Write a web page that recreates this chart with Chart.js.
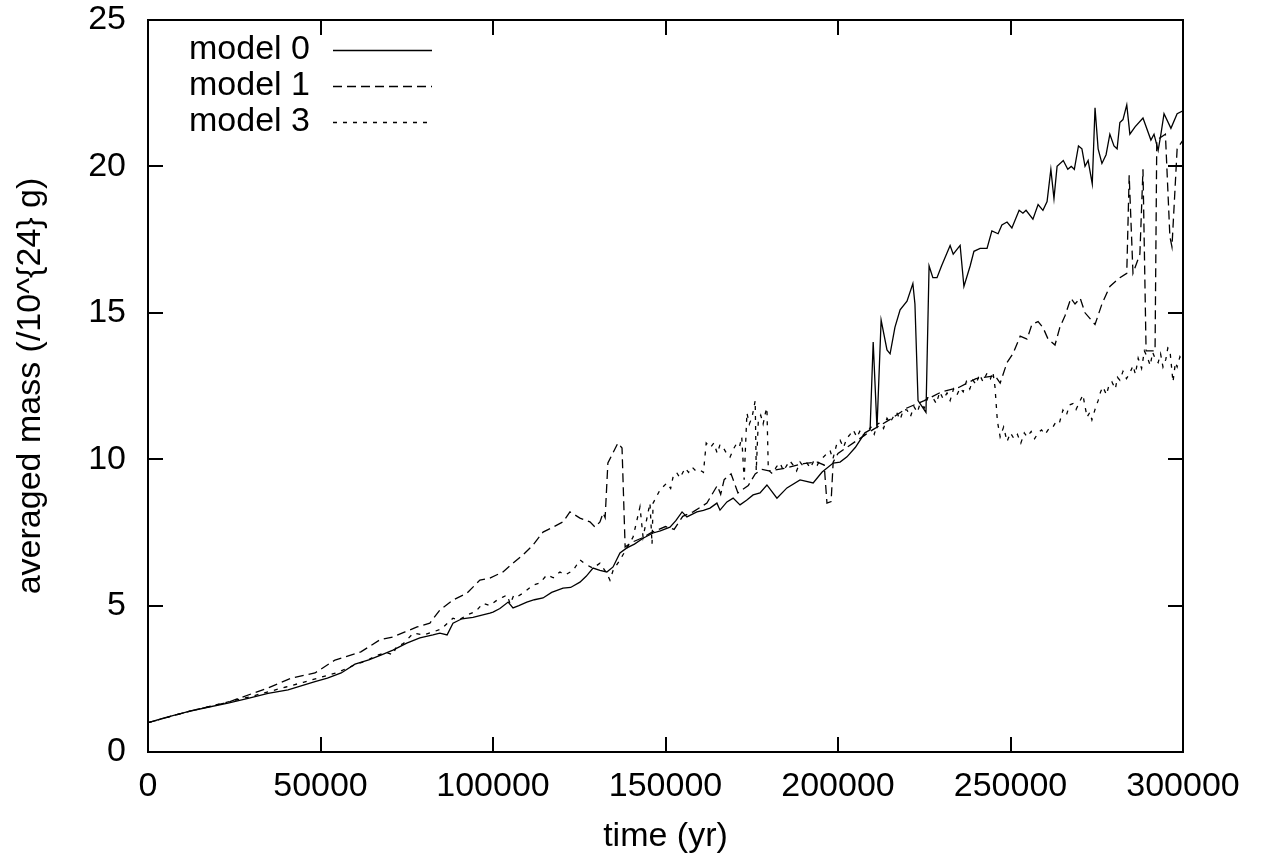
<!DOCTYPE html>
<html>
<head>
<meta charset="utf-8">
<script src="https://cdn.jsdelivr.net/npm/chart.js@4.4.1/dist/chart.umd.min.js"></script>
<style>
  html, body { margin: 0; padding: 0; background: #fff; }
  #wrap { width: 1262px; height: 865px; }
</style>
</head>
<body>
<div id="wrap"><canvas id="myChart" width="1262" height="865"></canvas></div>
<script>
// model 0 (solid)
const model0Time = [0, 5000, 11600, 17000, 23200, 29000, 34800, 40600, 48400, 52000, 56000, 60000, 64000, 67500, 71000, 73000, 75000, 78800, 82600, 84600, 86700, 88400, 91000, 94200, 96200, 99100, 100000, 102000, 104400, 105800, 107500, 109800, 112000, 114500, 117000, 120300, 122500, 125200, 127000, 129000, 131000, 133000, 134800, 136800, 138800, 141000, 143500, 146400, 148500, 151300, 153000, 154800, 156200, 159100, 161000, 162900, 164900, 165800, 167800, 169600, 171600, 173500, 175400, 177400, 179400, 182300, 185200, 189000, 192800, 195400, 198600, 200600, 202600, 205000, 207800, 209300, 210200, 211300, 212500, 214200, 215100, 216500, 218000, 220000, 221700, 222300, 223200, 225500, 226400, 227500, 228700, 230000, 232500, 233400, 235400, 236500, 238300, 239400, 241200, 243200, 244600, 246400, 247500, 249000, 250400, 252500, 253600, 254500, 256500, 258000, 259400, 260600, 261700, 262600, 263500, 265300, 266600, 267600, 268500, 269700, 270700, 271600, 272500, 273700, 274500, 275400, 276500, 277700, 278800, 280000, 280900, 281700, 282600, 283700, 284600, 286100, 288400, 290700, 291600, 292800, 293600, 294500, 296500, 298300, 300000];
const model0Mass = [1.0, 1.17, 1.38, 1.52, 1.67, 1.83, 2.0, 2.12, 2.4, 2.52, 2.7, 3.0, 3.15, 3.31, 3.48, 3.6, 3.72, 3.9, 4.0, 4.06, 4.0, 4.4, 4.55, 4.6, 4.66, 4.74, 4.78, 4.9, 5.12, 4.92, 5.0, 5.12, 5.2, 5.26, 5.45, 5.6, 5.62, 5.8, 6.0, 6.28, 6.2, 6.15, 6.32, 6.8, 6.97, 7.1, 7.3, 7.48, 7.55, 7.68, 7.9, 8.2, 8.03, 8.2, 8.25, 8.33, 8.5, 8.26, 8.54, 8.67, 8.44, 8.6, 8.78, 8.85, 9.12, 8.67, 9.02, 9.29, 9.19, 9.56, 9.87, 9.9, 10.08, 10.4, 10.9, 11.0, 14.0, 11.06, 14.75, 13.73, 13.6, 14.5, 15.1, 15.4, 16.0, 15.3, 12.0, 11.6, 16.6, 16.2, 16.2, 16.6, 17.3, 17.0, 17.3, 15.9, 16.6, 17.1, 17.2, 17.2, 17.8, 17.7, 18.0, 18.1, 17.9, 18.5, 18.4, 18.5, 18.2, 18.7, 18.5, 18.8, 19.9, 18.9, 20.0, 20.2, 19.9, 20.0, 19.9, 20.7, 20.6, 20.0, 20.2, 19.4, 22.0, 20.6, 20.1, 20.4, 21.1, 20.7, 20.6, 21.5, 21.6, 22.1, 21.1, 21.35, 21.65, 20.9, 21.1, 20.55, 21.1, 21.8, 21.3, 21.8, 21.9];

// model 1 (long dashes)
const model1Time = [0, 11600, 23200, 34800, 41500, 48400, 54200, 61700, 67200, 71000, 74500, 78000, 81700, 84600, 88400, 92500, 96200, 99100, 102900, 105800, 108700, 111600, 114500, 117400, 120300, 122300, 125200, 128100, 129600, 131000, 131900, 132500, 133300, 136200, 137400, 138300, 140000, 143000, 146000, 150000, 152500, 155000, 158000, 160000, 162000, 165000, 166000, 167000, 169000, 171000, 174000, 176000, 178000, 180000, 185000, 190000, 194000, 196000, 196800, 198000, 198600, 200000, 205000, 210000, 215000, 220000, 225000, 230000, 235000, 240000, 245500, 247000, 249000, 250700, 252800, 254800, 256200, 258000, 259400, 260900, 262900, 264300, 265800, 267500, 268700, 270200, 271600, 274500, 276500, 278800, 281700, 283700, 284400, 285500, 287500, 288400, 289300, 291900, 292400, 294900, 296200, 296800, 298300, 300000];
const model1Mass = [1.0, 1.38, 1.7, 2.19, 2.52, 2.7, 3.14, 3.42, 3.83, 3.93, 4.1, 4.27, 4.4, 4.85, 5.19, 5.43, 5.87, 5.94, 6.15, 6.45, 6.73, 7.07, 7.51, 7.68, 7.86, 8.2, 7.99, 7.86, 7.68, 7.86, 8.16, 8.0, 9.87, 10.55, 10.38, 7.0, 7.15, 7.3, 7.5, 7.7, 7.6, 8.05, 8.2, 8.35, 8.5, 9.1, 8.8, 9.3, 9.5, 8.85, 9.1, 9.5, 9.65, 9.6, 9.7, 9.85, 9.9, 9.8, 8.5, 8.55, 9.9, 10.2, 10.6, 11.0, 11.35, 11.75, 12.0, 12.3, 12.45, 12.75, 12.85, 12.6, 13.3, 13.6, 14.2, 14.1, 14.6, 14.7, 14.5, 14.1, 13.9, 14.5, 14.9, 15.5, 15.3, 15.5, 15.0, 14.6, 15.3, 15.9, 16.2, 16.35, 19.7, 16.35, 17.0, 19.9, 13.7, 13.7, 20.9, 21.1, 17.6, 17.25, 20.6, 20.9];

// model 3 (short dashes)
const model3Time = [0, 10000, 20000, 30000, 40000, 45000, 50000, 55000, 60000, 63000, 66000, 69000, 71000, 72000, 74000, 76900, 80000, 82600, 85000, 88400, 90000, 92500, 95000, 97100, 99000, 101200, 103000, 104100, 105000, 106000, 107000, 109000, 111600, 113600, 115600, 117500, 119400, 121000, 123200, 125200, 127000, 129000, 131000, 133000, 133900, 134800, 136800, 138500, 140600, 142600, 143500, 145500, 146100, 146400, 148400, 150400, 151500, 152200, 153200, 154200, 155700, 156700, 157700, 158800, 160000, 161000, 161800, 163000, 164000, 165000, 165800, 166700, 167700, 168700, 169700, 170700, 171500, 172100, 172800, 173600, 174300, 175100, 176000, 176300, 176900, 177600, 178300, 179000, 179400, 179800, 181000, 182200, 183200, 184200, 185200, 186000, 187000, 188000, 189000, 190000, 191000, 192000, 193000, 194000, 194800, 196000, 197700, 198500, 199700, 200600, 201600, 202500, 203500, 204400, 205500, 206500, 207500, 208400, 209500, 210500, 211400, 212200, 213200, 214200, 215100, 216000, 217000, 218000, 219000, 220000, 221000, 222000, 223000, 223800, 225000, 226000, 227500, 228500, 229500, 230500, 231600, 232500, 233500, 234500, 235400, 236300, 237200, 238200, 239100, 240000, 241000, 242000, 243200, 244200, 244900, 245500, 246200, 247000, 248000, 249000, 250000, 251000, 252000, 253000, 254000, 254800, 256000, 257000, 258000, 259000, 260000, 261500, 262300, 263300, 264200, 265200, 266200, 267100, 268100, 269000, 270200, 271000, 271600, 272200, 273000, 273600, 274500, 275400, 276100, 276800, 277800, 278600, 279400, 280400, 281000, 281700, 282600, 283600, 284600, 285500, 286200, 287000, 288000, 288800, 289600, 290500, 291200, 291900, 292800, 293500, 294200, 295000, 295600, 296200, 297100, 297800, 298300, 299100, 300000];
const model3Mass = [1.0, 1.33, 1.62, 1.9, 2.22, 2.38, 2.55, 2.72, 2.98, 3.1, 3.28, 3.4, 3.32, 3.6, 3.7, 4.06, 4.0, 4.1, 4.2, 4.57, 4.5, 4.68, 4.8, 5.08, 5.0, 5.19, 5.3, 5.36, 5.05, 5.35, 5.3, 5.45, 5.7, 5.77, 6.05, 5.95, 6.15, 6.05, 6.2, 6.56, 6.4, 6.28, 6.45, 6.1, 5.87, 6.2, 6.56, 6.9, 7.34, 8.37, 7.34, 8.5, 7.1, 8.5, 8.95, 9.19, 9.0, 9.4, 9.55, 9.36, 9.7, 9.55, 9.73, 9.6, 9.63, 9.55, 10.55, 10.4, 10.55, 10.2, 10.5, 10.4, 10.2, 10.07, 10.35, 10.55, 10.45, 10.76, 9.3, 11.58, 11.2, 11.44, 12.0, 9.6, 11.3, 11.5, 11.2, 11.6, 11.75, 9.63, 9.5, 9.75, 9.87, 9.6, 9.8, 9.95, 9.8, 9.6, 9.9, 9.75, 9.87, 9.7, 9.95, 9.8, 9.97, 10.1, 10.3, 10.0, 10.55, 10.65, 10.4, 10.7, 10.85, 11.0, 10.75, 11.0, 10.8, 10.9, 11.1, 10.85, 11.2, 11.24, 11.05, 11.4, 11.25, 11.44, 11.6, 11.35, 11.7, 11.68, 11.45, 11.8, 11.6, 11.9, 11.75, 12.1, 12.1, 11.9, 12.3, 12.05, 12.26, 12.0, 12.4, 12.2, 12.43, 12.3, 12.65, 12.4, 12.7, 12.55, 12.9, 12.65, 12.94, 12.75, 12.98, 12.47, 11.3, 10.76, 11.1, 10.6, 10.9, 10.7, 10.85, 10.55, 10.9, 10.76, 10.95, 10.7, 10.9, 11.0, 10.85, 11.1, 11.1, 11.3, 11.25, 11.68, 11.5, 11.85, 11.9, 11.7, 12.0, 12.2, 11.8, 11.44, 11.6, 11.34, 11.7, 12.0, 12.3, 12.47, 12.2, 12.55, 12.64, 12.4, 12.8, 12.7, 13.0, 12.75, 12.94, 13.2, 12.9, 13.45, 13.1, 13.7, 13.5, 13.2, 13.65, 13.45, 13.3, 13.6, 13.15, 13.4, 13.8, 13.73, 12.64, 13.3, 13.15, 13.5, 13.3];

const xTicks = [0, 50000, 100000, 150000, 200000, 250000, 300000];
const yTicks = [0, 5, 10, 15, 20, 25];

const FONT = '"Liberation Sans", Arial, Helvetica, sans-serif';

function toPoints(t, m) {
    return t.map((x, i) => ({ x: x, y: m[i] }));
}

// gnuplot style frame with inward ticks on all four sides
const framePlugin = {
    id: 'frame',
    afterDraw(chart) {
        const ctx = chart.ctx;
        const a = chart.chartArea;
        const xs = chart.scales.x, ys = chart.scales.y;
        const tl = 15;
        ctx.save();
        ctx.strokeStyle = '#000';
        ctx.lineWidth = 2;
        ctx.beginPath();
        xTicks.forEach(v => {
            const px = Math.round(xs.getPixelForValue(v));
            ctx.moveTo(px, a.bottom); ctx.lineTo(px, a.bottom - tl);
            ctx.moveTo(px, a.top); ctx.lineTo(px, a.top + tl);
        });
        yTicks.forEach(v => {
            const py = Math.round(ys.getPixelForValue(v));
            ctx.moveTo(a.left, py); ctx.lineTo(a.left + tl, py);
            ctx.moveTo(a.right, py); ctx.lineTo(a.right - tl, py);
        });
        ctx.stroke();
        ctx.strokeRect(a.left, a.top, a.right - a.left, a.bottom - a.top);

        // key: label on the left, line sample on the right
        ctx.font = '34px ' + FONT;
        ctx.fillStyle = '#000';
        ctx.textAlign = 'right';
        ctx.textBaseline = 'middle';
        ctx.lineWidth = 1.3;
        chart.data.datasets.forEach((ds, i) => {
            const y = 50 + i * 36;
            ctx.fillText(ds.label, 310, y);
            ctx.setLineDash(ds.borderDash || []);
            ctx.beginPath();
            ctx.moveTo(333, y + 0.5);
            ctx.lineTo(432, y + 0.5);
            ctx.stroke();
        });
        ctx.restore();
    }
};

document.addEventListener('DOMContentLoaded', function () {
    const ctx = document.getElementById('myChart');

    new Chart(ctx, {
        type: 'line',
        data: {
            datasets: [{
                label: 'model 0',
                data: toPoints(model0Time, model0Mass),
                borderColor: '#000',
                borderWidth: 1.3,
                borderDash: []
            }, {
                label: 'model 1',
                data: toPoints(model1Time, model1Mass),
                borderColor: '#000',
                borderWidth: 1.3,
                borderDash: [9, 5]
            }, {
                label: 'model 3',
                data: toPoints(model3Time, model3Mass),
                borderColor: '#000',
                borderWidth: 1.3,
                borderDash: [4, 6]
            }]
        },
        options: {
            responsive: false,
            animation: false,
            elements: { point: { radius: 0 }, line: { tension: 0 } },
            layout: { padding: { top: 20, right: 79, bottom: 0, left: 0 } },
            plugins: { legend: { display: false }, tooltip: { enabled: false } },
            scales: {
                x: {
                    type: 'linear',
                    min: 0,
                    max: 300000,
                    afterBuildTicks(s) { s.ticks = xTicks.map(v => ({ value: v })); },
                    afterFit(s) { s.height = 113; s.paddingLeft = 0; s.paddingRight = 0; },
                    grid: { display: false, drawTicks: false },
                    border: { display: false },
                    ticks: {
                        color: '#000',
                        font: { family: FONT, size: 34 },
                        padding: 14,
                        maxRotation: 0,
                        autoSkip: false,
                        callback: v => String(v)
                    },
                    title: {
                        display: true,
                        text: 'time (yr)',
                        color: '#000',
                        font: { family: FONT, size: 34 },
                        padding: { top: 0, bottom: 8 }
                    }
                },
                y: {
                    min: 0,
                    max: 25,
                    afterBuildTicks(s) { s.ticks = yTicks.map(v => ({ value: v })); },
                    afterFit(s) { s.width = 148; s.paddingTop = 0; s.paddingBottom = 0; },
                    grid: { display: false, drawTicks: false },
                    border: { display: false },
                    ticks: {
                        color: '#000',
                        font: { family: FONT, size: 34 },
                        padding: 22,
                        callback: v => String(v)
                    },
                    title: {
                        display: true,
                        text: 'averaged mass (/10^{24} g)',
                        color: '#000',
                        font: { family: FONT, size: 34 },
                        padding: { top: 10, bottom: 0 }
                    }
                }
            }
        },
        plugins: [framePlugin]
    });
});
</script>
</body>
</html>
